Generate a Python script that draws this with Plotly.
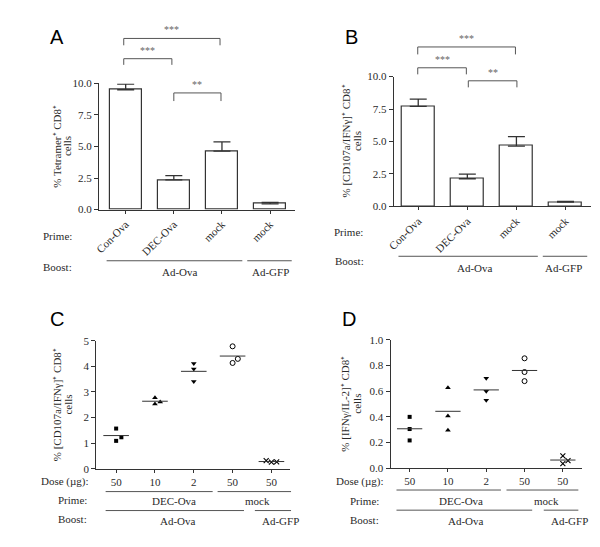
import numpy as np
import plotly.graph_objects as go

W, H = 600, 547

# ---------------- data ----------------
prime_AB = ["Con-Ova", "DEC-Ova", "mock", "mock"]
A_mean = [9.50, 2.35, 4.63, 0.45]
A_sem = [0.45, 0.34, 0.74, 0.12]
B_mean = [7.70, 2.13, 4.65, 0.33]
B_sem = [0.57, 0.35, 0.73, 0.05]

dose_labels = ["50", "10", "2", "50", "50"]
C_sq = [1.57, 1.23, 1.09]
C_up = [2.77, 2.61, 2.53]
C_down = [4.11, 3.89, 3.41]
C_circ = [4.78, 4.29, 4.13]
C_x = [0.32, 0.26, 0.27]

D_sq = [0.40, 0.305, 0.216]
D_up = [0.628, 0.407, 0.295]
D_down = [0.702, 0.600, 0.529]
D_circ = [0.857, 0.750, 0.679]
D_x = [0.096, 0.058, 0.035]

A_ticks = [0, 2.5, 5, 7.5, 10]
C_ticks = [0, 1, 2, 3, 4, 5]
D_ticks = [0, 0.2, 0.4, 0.6, 0.8, 1.0]

# ---------------- style ----------------
SERIF = "Liberation Serif, Times New Roman, serif"
TXT = "#2a2a2a"
LINE = "#333333"


def xp(px):
    return px / W


def yp(py):
    return 1 - py / H


fig = go.Figure()

# ---- bars A / B ----
for vals, errs, ax in [(A_mean, A_sem, ("x", "y")), (B_mean, B_sem, ("x2", "y2"))]:
    fig.add_trace(go.Bar(
        x=list(range(len(vals))), y=vals, width=0.66,
        marker=dict(color="white", line=dict(color=LINE, width=1.2)),
        error_y=dict(type="data", array=errs, arrayminus=[0] * len(errs),
                     symmetric=False, color=LINE, thickness=1.3, width=8.5),
        xaxis=ax[0], yaxis=ax[1], showlegend=False,
    ))

# ---- scatter C / D ----
symbols = [("square", 4, 0), ("triangle-up", 5, 0), ("triangle-down", 5, 0),
           ("circle-open", 5, 1), ("x-thin-open", 5, 1.1)]
C_groups = [C_sq, C_up, C_down, C_circ, C_x]
D_groups = [D_sq, D_up, D_down, D_circ, D_x]
C_jit = [[0, 1, 0], [0, 1, 0], [0, 0, 0], [0, 1, 0], [-1, 0, 1]]
D_jit = [[0, 0, 0], [0, 0, 0], [0, 0, 0], [0, 0, 0], [0, 1, 0]]
JSTEP = 0.135
HALF = 0.33

for groups, jits, ax in [(C_groups, C_jit, ("x3", "y3")), (D_groups, D_jit, ("x4", "y4"))]:
    for i, (vals, jit) in enumerate(zip(groups, jits)):
        sym, sz, lw = symbols[i]
        fig.add_trace(go.Scatter(
            x=[i + j * JSTEP for j in jit], y=vals, mode="markers",
            marker=dict(symbol=sym, size=sz, color="black",
                        line=dict(color="black", width=lw)),
            xaxis=ax[0], yaxis=ax[1], showlegend=False, cliponaxis=False,
        ))
        m = float(np.mean(vals))
        fig.add_trace(go.Scatter(
            x=[i - HALF, i + HALF], y=[m, m], mode="lines",
            line=dict(color=LINE, width=1),
            xaxis=ax[0], yaxis=ax[1], showlegend=False, cliponaxis=False,
        ))

# ---------------- axes ----------------
common_x = dict(showline=True, linecolor=LINE, linewidth=1.1, ticks="outside",
                ticklen=3, tickcolor=LINE, showgrid=False, zeroline=False,
                tickfont=dict(family=SERIF, size=11, color=TXT), fixedrange=True)
common_y = dict(showline=True, linecolor=LINE, linewidth=1.1, ticks="outside",
                ticklen=4, tickcolor=LINE, showgrid=False, zeroline=False,
                tickfont=dict(family=SERIF, size=11, color=TXT), fixedrange=True)

fig.update_layout(
    xaxis=dict(common_x, domain=[xp(85), xp(283)], range=[-0.554, 3.511],
               tickvals=[0, 1, 2, 3], ticktext=prime_AB, tickangle=-45, anchor="y"),
    yaxis=dict(common_y, domain=[yp(200), yp(71)], range=[0, 10],
               tickvals=A_ticks, tickformat=".1f", anchor="x"),
    xaxis2=dict(common_x, domain=[xp(383.3), xp(582.7)], range=[-0.497, 3.517],
                tickvals=[0, 1, 2, 3], ticktext=prime_AB, tickangle=-45, anchor="y2"),
    yaxis2=dict(common_y, domain=[yp(196.7), yp(64)], range=[0, 10],
                tickvals=A_ticks, tickformat=".1f", anchor="x2"),
    xaxis3=dict(common_x, domain=[xp(82.3), xp(278.3)], range=[-0.51, 4.48],
                tickvals=[0, 1, 2, 3, 4], ticktext=dose_labels, tickangle=0, anchor="y3"),
    yaxis3=dict(common_y, domain=[yp(465), yp(334)], range=[0, 5],
                tickvals=C_ticks, tickformat="d", anchor="x3"),
    xaxis4=dict(common_x, domain=[xp(380), xp(573.3)], range=[-0.498, 4.49],
                tickvals=[0, 1, 2, 3, 4], ticktext=dose_labels, tickangle=0, anchor="y4"),
    yaxis4=dict(common_y, domain=[yp(464.3), yp(333.3)], range=[0, 1],
                tickvals=D_ticks, tickformat=".1f", anchor="x4"),
)

ann = []
shapes = []


def text(x, y, s, xanchor="center", size=11, family=SERIF, color=TXT, angle=0):
    ann.append(dict(x=xp(x), y=yp(y), xref="paper", yref="paper", text=s,
                    showarrow=False, xanchor=xanchor, yanchor="middle",
                    textangle=angle, font=dict(family=family, size=size, color=color)))


def hline(x0, x1, y, color="#555555"):
    shapes.append(dict(type="line", xref="paper", yref="paper",
                       x0=xp(x0), x1=xp(x1), y0=yp(y), y1=yp(y),
                       line=dict(color=color, width=1)))


def bracket(xref, c0, c1, ytop, ybot, stars):
    col = "#555555"
    shapes.append(dict(type="path", xref=xref, yref="paper",
                       path=f"M {c0},{yp(ybot)} L {c0},{yp(ytop)} L {c1},{yp(ytop)} L {c1},{yp(ybot)}",
                       line=dict(color=col, width=1)))
    ann.append(dict(x=(c0 + c1) / 2, y=yp(ytop - 1), xref=xref, yref="paper",
                    text=stars, showarrow=False, xanchor="center", yanchor="bottom",
                    font=dict(family=SERIF, size=10, color="#666666")))


# panel letters
for lab, x, y in [("A", 43, 24), ("B", 340, 24), ("C", 43, 312), ("D", 338, 312)]:
    text(x, y, lab, size=20, family="Liberation Sans, Arial, sans-serif", color="black")

# y-axis titles (two lines each)
sp = "⁺"
text(41.7, 135.5, f"% Tetramer{sp} CD8{sp}", angle=-90, size=11)
text(52.2, 135.5, "cells", angle=-90, size=11)
text(335, 130.3, f"% [CD107a/IFNγ]{sp} CD8{sp}", angle=-90, size=11)
text(346.7, 130.3, "cells", angle=-90, size=11)
text(42, 399.5, f"% [CD107a/IFNγ]{sp} CD8{sp}", angle=-90, size=11)
text(53.5, 399.5, "cells", angle=-90, size=11)
text(333.5, 398.8, f"% [IFNγ/IL-2]{sp} CD8{sp}", angle=-90, size=11)
text(345.7, 398.8, "cells", angle=-90, size=11)

# brackets A
bracket("x", -0.04, 1.96, 25, 32, "***")
bracket("x", -0.04, 0.96, 45.7, 52, "***")
bracket("x", 1.0, 1.98, 80.7, 89, "**")
# brackets B
bracket("x2", -0.01, 1.98, 33.7, 41.3, "***")
bracket("x2", -0.01, 0.98, 55, 61.7, "***")
bracket("x2", 1.02, 2.01, 68.3, 75, "**")

# panel A rows
text(59.3, 227.3, "Prime:", xanchor="right")
text(59.3, 258.3, "Boost:", xanchor="right")
hline(92.7, 230, 252.3)
hline(235, 280, 252.3)
text(167, 263.3, "Ad-Ova")
text(258.3, 263.3, "Ad-GFP")

# panel B rows
text(354, 223.3, "Prime:", xanchor="right")
text(355, 252.7, "Boost:", xanchor="right")
hline(388, 529, 247.7)
hline(534, 579, 247.7)
text(465.7, 259.3, "Ad-Ova")
text(555, 259.3, "Ad-GFP")

# panel C rows
text(76.7, 478.3, "Dose (µg):", xanchor="right")
hline(91.7, 200, 488.3)
hline(205, 279.3, 488.3)
text(75, 496.5, "Prime:", xanchor="right")
text(160.5, 498, "DEC-Ova")
text(245.7, 498, "mock")
hline(91.7, 231.7, 507.7)
hline(242.7, 279.3, 507.7)
text(75, 516.7, "Boost:", xanchor="right")
text(165, 518.3, "Ad-Ova")
text(268.3, 518.3, "Ad-GFP")

# panel D rows
text(375, 478.3, "Dose (µg):", xanchor="right")
hline(386, 491.7, 486.7)
hline(497.3, 570, 486.7)
text(370, 497.7, "Prime:", xanchor="right")
text(451.7, 498.3, "DEC-Ova")
text(537.5, 498.3, "mock")
hline(386, 523.3, 507.3)
hline(535, 570, 507.3)
text(370, 517.7, "Boost:", xanchor="right")
text(456.7, 518.3, "Ad-Ova")
text(560.8, 518.3, "Ad-GFP")

fig.update_layout(
    width=W, height=H, margin=dict(l=0, r=0, t=0, b=0),
    paper_bgcolor="white", plot_bgcolor="white",
    annotations=ann, shapes=shapes, showlegend=False, bargap=0,
)

fig.write_html("out.html")
